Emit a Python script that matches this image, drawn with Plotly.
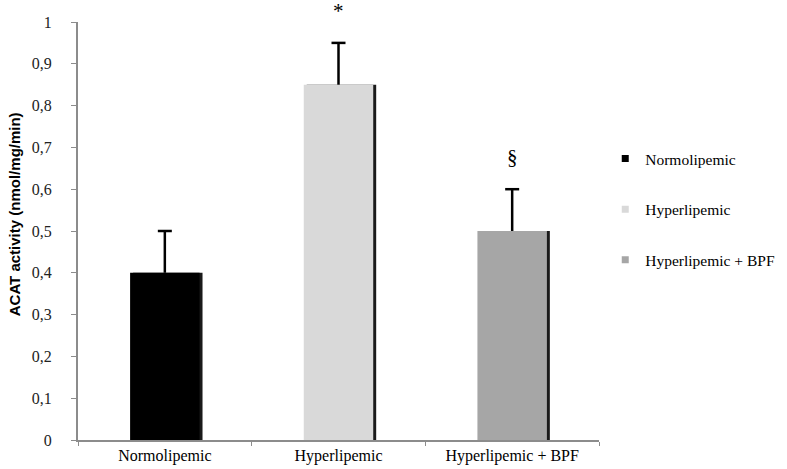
import plotly.graph_objects as go

categories = ["Normolipemic", "Hyperlipemic", "Hyperlipemic + BPF"]
values = [0.40, 0.85, 0.50]
errors = [0.10, 0.10, 0.10]
colors = ["#000000", "#d9d9d9", "#a6a6a6"]
marks = ["", "*", "§"]
ytick_vals = [0, 0.1, 0.2, 0.3, 0.4, 0.5, 0.6, 0.7, 0.8, 0.9, 1.0]
ytick_text = ["0", "0,1", "0,2", "0,3", "0,4", "0,5", "0,6", "0,7", "0,8", "0,9", "1"]

W = 0.40
fig = go.Figure()
# shadow bars (3D-like edge on the right side)
for c, v in zip(categories, values):
    fig.add_trace(go.Bar(x=[c], y=[v], width=W, offset=-W / 2 + 0.017,
                         marker=dict(color="#1a1a1a", line=dict(width=0)),
                         showlegend=False, hoverinfo="skip"))
# main bars with upper error stems
for c, v, e, col in zip(categories, values, errors, colors):
    fig.add_trace(go.Bar(x=[c], y=[v], width=W, offset=-W / 2, name=c,
                         marker=dict(color=col, line=dict(width=0)),
                         error_y=dict(type="data", array=[e], arrayminus=[0], symmetric=False,
                                      color="#000000", thickness=2.5, width=0),
                         showlegend=False))
# error caps
fig.add_trace(go.Scatter(x=categories, y=[v + e for v, e in zip(values, errors)],
                         mode="markers", showlegend=False, hoverinfo="skip",
                         marker=dict(symbol="line-ew", size=10,
                                     line=dict(color="#000000", width=2.5))))
# legend entries
for c, col in zip(categories, colors):
    fig.add_trace(go.Scatter(x=[None], y=[None], mode="markers", name=c, legendgroup=c,
                             marker=dict(symbol="square", size=7, color=col)))

for c, v, e, m in zip(categories, values, errors, marks):
    if m:
        fig.add_annotation(x=c, y=v + e, text=m, showarrow=False, yshift=32, yanchor="middle",
                           font=dict(family="Liberation Serif", size=21, color="#000"))

fig.add_annotation(x=(14 - 78) / 521, xref="paper", y=0.54, yref="paper",
                   text="<b>ACAT activity (nmol/mg/min)</b>",
                   textangle=-90, showarrow=False, xanchor="center", yanchor="middle",
                   font=dict(family="Liberation Sans", size=15, color="#000"))

fig.update_layout(
    width=787, height=469,
    margin=dict(l=78, r=188, t=22, b=29, autoexpand=False),
    paper_bgcolor="white", plot_bgcolor="white",
    barmode="overlay",
    font=dict(family="Liberation Serif", size=16, color="#000"),
    legend=dict(x=1.012, y=0.713, xanchor="left", yanchor="top",
                font=dict(family="Liberation Serif", size=15.5, color="#000"),
                tracegroupgap=27.5, itemwidth=30, bgcolor="rgba(0,0,0,0)"),
    showlegend=True,
)
fig.update_xaxes(type="category", tickson="boundaries", showline=True, linecolor="#8c8c8c",
                 linewidth=2, ticks="outside", ticklen=4, tickcolor="#8c8c8c",
                 tickfont=dict(family="Liberation Serif", size=16, color="#000"),
                 showgrid=False, zeroline=False, range=[-0.5, 2.5], automargin=False)
fig.update_yaxes(range=[0, 1], tickvals=ytick_vals, ticktext=ytick_text,
                 showline=True, linecolor="#8c8c8c", linewidth=2, ticks="outside",
                 ticklen=5, tickcolor="#8c8c8c", showgrid=False, zeroline=False,
                 ticklabelstandoff=16, automargin=False,
                 tickfont=dict(family="Liberation Serif", size=16, color="#222"))
fig.write_html("out.html", config={"displayModeBar": False},
               post_script="document.body.style.margin='0';")
